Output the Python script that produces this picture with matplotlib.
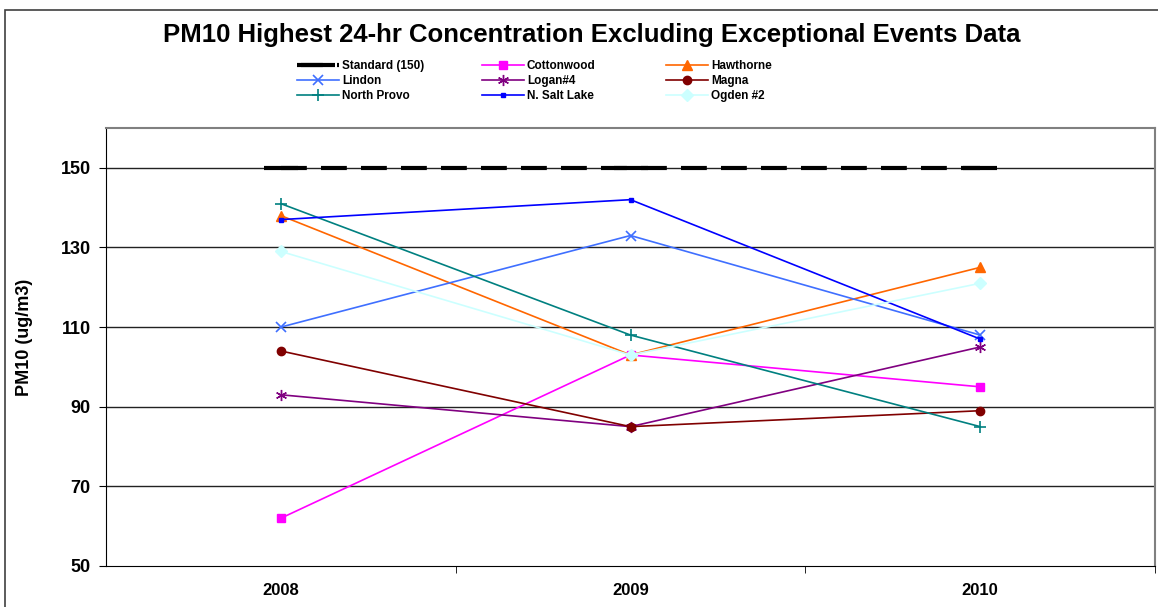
import numpy as np
import matplotlib.pyplot as plt
from matplotlib.patches import Rectangle

plt.rcParams['font.family'] = ['Liberation Sans', 'DejaVu Sans']
plt.rcParams['font.weight'] = 'bold'

years = ['2008', '2009', '2010']
standard = [150, 150, 150]
cottonwood = [62, 103, 95]
hawthorne = [138, 103, 125]
lindon = [110, 133, 108]
logan4 = [93, 85, 105]
magna = [104, 85, 89]
north_provo = [141, 108, 85]
n_salt_lake = [137, 142, 107]
ogden2 = [129, 103, 121]


def driver():
    x = np.arange(len(years))

    fig = plt.figure(figsize=(11.58, 6.07), dpi=100)
    ax = fig.add_axes([106/1158, 41/607, 1049/1158, 438/607])

    # outer chart frame
    fig.patches.append(Rectangle((5/1158, -0.1), 1.2, (597/607) + 0.1,
                                 transform=fig.transFigure, fill=False,
                                 edgecolor='#404040', linewidth=1.2))

    for v in [70, 90, 110, 130, 150]:
        ax.axhline(v, color='#222222', linewidth=1.0, zorder=1)

    s = [
        ('Cottonwood', cottonwood, '#FF00FF', 's', 6, 1),
        ('Hawthorne', hawthorne, '#FF6600', '^', 7, 1),
        ('Lindon', lindon, '#3F6FFF', 'x', 7, 1.2),
        ('Logan#4', logan4, '#800080', (6, 2, 0), 8, 1),
        ('Magna', magna, '#800000', 'o', 6, 1),
        ('North Provo', north_provo, '#008080', '+', 8, 1.2),
        ('N. Salt Lake', n_salt_lake, '#0000FF', 's', 3, 1),
        ('Ogden #2', ogden2, '#CCFFFF', 'D', 6, 1),
    ]

    h_std, = ax.plot(x, standard, color='black', linewidth=3,
                     linestyle=(0, (6.2, 3.4)), marker='_', markersize=24,
                     markeredgewidth=3, label='Standard (150)', zorder=3)
    handles = [h_std]
    for name, vals, c, m, ms, mew in s:
        h, = ax.plot(x, vals, color=c, linewidth=1.2, marker=m, markersize=ms,
                     markeredgewidth=mew, markerfacecolor=c, markeredgecolor=c,
                     label=name, zorder=4)
        handles.append(h)

    ax.set_xlim(-0.5, 2.5)
    ax.set_ylim(50, 160)
    ax.set_yticks([50, 70, 90, 110, 130, 150])
    ax.set_xticks(x)
    ax.set_xticklabels(years)
    ax.set_xticks([0.5, 1.5, 2.5], minor=True)
    ax.tick_params(axis='x', which='major', length=0, pad=12, labelsize=12)
    ax.tick_params(axis='x', which='minor', length=5, direction='out')
    ax.tick_params(axis='y', length=5, direction='out', labelsize=13, pad=6)
    for lab in ax.get_xticklabels() + ax.get_yticklabels():
        lab.set_fontweight('bold')

    ax.spines['top'].set_color('#808080')
    ax.spines['right'].set_color('#808080')
    ax.spines['left'].set_color('black')
    ax.spines['bottom'].set_color('black')
    ax.spines['top'].set_linewidth(1.5)
    ax.spines['right'].set_linewidth(1.5)

    ax.set_ylabel('PM10 (ug/m3)', fontsize=13, fontweight='bold')
    ax.yaxis.set_label_coords(-0.0696, 0.523)

    fig.text(592/1158, 1 - 35/607, 'PM10 Highest 24-hr Concentration Excluding Exceptional Events Data',
             ha='center', va='center', fontsize=18.5, fontweight='bold')

    # legend laid out row by row, one legend per column
    col_x = [297, 482, 666]
    for j in range(3):
        hs = handles[j::3]
        leg = fig.legend(handles=hs, loc='upper left',
                         bbox_to_anchor=(col_x[j]/1158, 1 - 60/607),
                         frameon=False, fontsize=8.5, handlelength=3.55,
                         labelspacing=0.24, handletextpad=0.25, borderpad=0,
                         borderaxespad=0)
        for t in leg.get_texts():
            t.set_fontweight('bold')

    fig.savefig('out.png', dpi=100)


if __name__ == '__main__':
    driver()
